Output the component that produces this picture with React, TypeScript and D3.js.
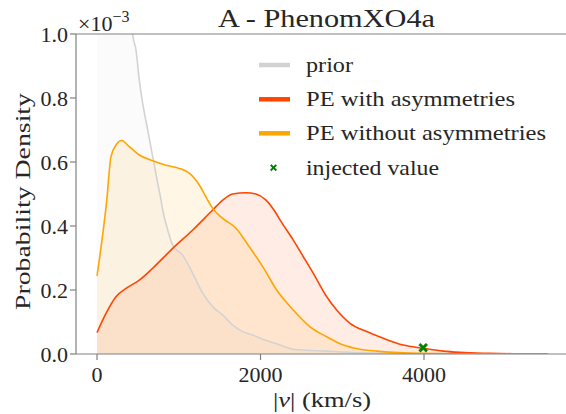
import React from "react";
import * as d3 from "d3";

const priorV = [0, 150, 300, 400, 437, 477, 517, 559, 620, 681, 743, 783, 804, 865, 926, 1048, 1171, 1293, 1415, 1538, 1660, 1782, 1904, 2027, 2190, 2401, 2810, 3217, 4000, 5510];
const priorD = [3.0, 2.2, 1.5, 1.12, 0.997, 0.95, 0.856, 0.783, 0.7, 0.617, 0.533, 0.481, 0.45, 0.3875, 0.34, 0.309, 0.252, 0.19, 0.148, 0.122, 0.09, 0.07, 0.059, 0.046, 0.033, 0.015, 0.009, 0.004, 0.001, 0.0];

const withV = [0, 110, 232, 355, 517, 681, 926, 1171, 1415, 1538, 1660, 1823, 1945, 2067, 2190, 2239, 2401, 2524, 2646, 2810, 2932, 3095, 3299, 3502, 3747, 3991, 4236, 4440, 4800, 5200, 5510];
const withD = [0.067, 0.127, 0.179, 0.205, 0.231, 0.268, 0.33, 0.3875, 0.45, 0.481, 0.5, 0.504, 0.5, 0.481, 0.44, 0.419, 0.356, 0.304, 0.252, 0.179, 0.1375, 0.096, 0.07, 0.049, 0.028, 0.018, 0.009, 0.005, 0.002, 0.0005, 0.0];

const withoutV = [0, 119, 171, 241, 302, 395, 517, 681, 844, 1007, 1129, 1251, 1354, 1415, 1538, 1700, 1863, 2027, 2198, 2401, 2606, 2810, 3013, 3217, 3421, 3621, 4000, 4500, 5510];
const withoutD = [0.244, 0.48, 0.617, 0.656, 0.667, 0.648, 0.622, 0.604, 0.59, 0.58, 0.565, 0.528, 0.481, 0.455, 0.424, 0.393, 0.335, 0.273, 0.2, 0.1375, 0.085, 0.054, 0.028, 0.015, 0.009, 0.005, 0.002, 0.0005, 0.0];

const injectedV = [3990];
const injectedD = [0.0197];

const xTicks = [0, 2000, 4000];
const yTicks = [0, 0.2, 0.4, 0.6, 0.8, 1.0];
const legendLabels = ["prior", "PE with asymmetries", "PE without asymmetries", "injected value"];
const legendWidths = [47, 209, 240, 133];
const title = "A - PhenomXO4a";

const W = 566, H = 414;
const TXT = "#262626";

export default function App() {
  const x = d3.scaleLinear().domain([-257, 5737]).range([76, 566]);
  const y = d3.scaleLinear().domain([0, 1.0]).range([354, 34]);

  const mk = (vs: number[], ds: number[]) => vs.map((v, i) => [v, ds[i]] as [number, number]);
  const line = d3.line<[number, number]>().x(d => x(d[0])).y(d => y(d[1])).curve(d3.curveMonotoneX);
  const area = d3.area<[number, number]>().x(d => x(d[0])).y0(y(0)).y1(d => y(d[1])).curve(d3.curveMonotoneX);

  const series = [
    { data: mk(priorV, priorD), color: "#d3d3d3" },
    { data: mk(withV, withD), color: "#ff4500" },
    { data: mk(withoutV, withoutD), color: "#ffa500" },
  ];

  const legY = [65, 99.3, 133.3, 167.7];
  const legColors = ["#d3d3d3", "#ff4500", "#ffa500"];

  const xMark = (cx: number, cy: number, s: number) => {
    const a = s / 2, b = s / 5;
    const p = [
      [-a + b, -a], [0, -b], [a - b, -a], [a, -a + b], [b, 0], [a, a - b], [a - b, a], [0, b], [-a + b, a], [-a, a - b], [-b, 0], [-a, -a + b],
    ];
    return "M" + p.map(q => `${cx + q[0]},${cy + q[1]}`).join("L") + "Z";
  };

  const T = (props: any) => <text fontSize={22} fill={TXT} style={{ fontFamily: "Liberation Serif" }} {...props} />;

  return (
    <svg width={W} height={H} style={{ display: "block", position: "absolute", left: 0, top: 0 }}>
      <rect width={W} height={H} fill="#fff" />
      <defs>
        <clipPath id="plot"><rect x={76} y={34} width={490} height={320} /></clipPath>
      </defs>
      <g clipPath="url(#plot)">
        {series.map((s, i) => (
          <path key={"a" + i} d={area(s.data) || ""} fill={s.color} fillOpacity={0.1} stroke="none" />
        ))}
        {series.map((s, i) => (
          <path key={"l" + i} d={line(s.data) || ""} fill="none" stroke={s.color} strokeWidth={1.6} />
        ))}
        {injectedV.map((v, i) => (
          <path key={"inj" + i} d={xMark(x(v), y(injectedD[i]), 9)} fill="#008000" stroke="#008000" strokeWidth={0.5} />
        ))}
      </g>
      <line x1={76} x2={76} y1={34} y2={354} stroke="#808080" strokeWidth={1.2} />
      <line x1={76} x2={566} y1={354} y2={354} stroke="#808080" strokeWidth={1.2} />
      <line x1={76} x2={566} y1={34} y2={34} stroke="#808080" strokeWidth={1.2} />
      {xTicks.map(t => (
        <g key={"xt" + t}>
          <line x1={x(t)} x2={x(t)} y1={354} y2={360} stroke="#808080" strokeWidth={1.2} />
          <T x={x(t)} y={382} textAnchor="middle">{String(t)}</T>
        </g>
      ))}
      {yTicks.map(t => (
        <g key={"yt" + t}>
          <line x1={70} x2={76} y1={y(t)} y2={y(t)} stroke="#808080" strokeWidth={1.2} />
          <T x={68} y={y(t) + 7.5} textAnchor="end">{t.toFixed(1)}</T>
        </g>
      ))}
      <T x={78} y={31}>×10<tspan dy={-9} fontSize={16}>−3</tspan></T>
      <T x={218} y={27} fontSize={26} textLength={217} lengthAdjust="spacingAndGlyphs">{title}</T>
      <T x={273} y={407} textLength={98} lengthAdjust="spacingAndGlyphs">|<tspan fontStyle="italic">v</tspan>| (km/s)</T>
      <T transform="translate(29.5,310) rotate(-90)" textLength={217} lengthAdjust="spacingAndGlyphs">Probability Density</T>
      {legColors.map((c, i) => (
        <line key={"lg" + i} x1={259} x2={290} y1={legY[i]} y2={legY[i]} stroke={c} strokeWidth={4.5} />
      ))}
      <path d={xMark(273.5, legY[3], 7)} fill="#008000" />
      {legendLabels.map((l, i) => (
        <T key={"lt" + i} x={306} y={legY[i] + 7} textLength={legendWidths[i]} lengthAdjust="spacingAndGlyphs">{l}</T>
      ))}
    </svg>
  );
}
